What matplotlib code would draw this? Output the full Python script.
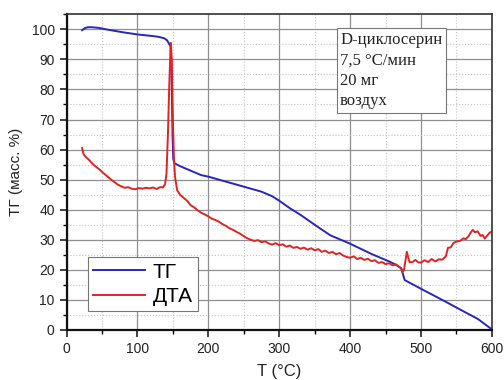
import numpy as np
import matplotlib
matplotlib.use('Agg')
import matplotlib.pyplot as plt
from matplotlib.ticker import MultipleLocator

# TG curve (mass %)
tg_t = [22, 26, 30, 35, 45, 60, 80, 100, 120, 130, 138, 142, 145, 147, 148.5, 149.5,
        150.5, 152, 160, 175, 190, 200, 215, 230, 245, 260, 275, 290, 300, 315, 330,
        350, 372, 400, 430, 456, 466, 472, 474, 477, 500, 530, 560, 580, 600]
tg_v = [99.7, 100.4, 100.7, 100.7, 100.5, 99.8, 99.0, 98.3, 97.8, 97.5, 97.0, 96.3,
        95.0, 94.3, 80, 65, 57, 55.5, 54.5, 53, 51.5, 51, 50, 49, 48, 47, 46, 44.5, 43,
        40.5, 38.3, 35, 31.5, 28.7, 25.3, 22.7, 21.5, 20.5, 19, 16.6, 13.7, 10, 6.2, 3.7, 0.2]

# DTA curve
dta_t = [22, 24, 27, 32, 37, 42, 47, 52, 57, 62, 67, 72, 77, 82, 87, 92, 97, 102, 107,
         112, 117, 122, 127, 132, 136, 139, 141, 143, 145, 147, 148.5, 150, 151.5, 153,
         156, 160, 165, 170, 175, 180, 185, 190, 195, 200, 205, 210, 215, 220, 225, 230,
         235, 240, 245, 250, 255, 260, 265, 270, 275, 280, 285, 290, 295, 300, 305, 310,
         315, 320, 325, 330, 335, 340, 345, 350, 355, 360, 365, 370, 375, 380, 385, 390,
         395, 400, 405, 410, 415, 420, 425, 430, 435, 440, 445, 450, 455, 460, 465, 469,
         472, 474, 476, 478, 480, 482, 484, 488, 492, 496, 500, 505, 510, 515, 520, 525,
         530, 535, 538, 542, 546, 550, 555, 560, 563, 567, 570, 573, 576, 580, 584, 587,
         590, 594, 597, 600]
dta_v = [60.5, 58.5, 57.6, 56.5, 55.2, 54.2, 53.3, 52.2, 51.2, 50.2, 49.3, 48.4, 47.8,
         47.3, 47.5, 47.0, 46.8, 47.2, 47.0, 47.3, 47.1, 47.4, 46.9, 47.5, 47.4, 48.5,
         52, 65, 82, 95.5, 90, 70, 57, 51, 46.5, 45, 44, 43, 41.5, 40.8, 39.8, 39, 38.4,
         37.8, 37, 36.6, 36, 35.2, 34.6, 33.8, 33.3, 32.6, 32, 31.2, 30.5, 30.0, 29.6,
         29.9, 29.2, 29.5, 28.8, 28.4, 28.9, 28.2, 28.5, 27.7, 28.1, 27.3, 27.6, 27.0,
         27.4, 26.7, 27.2, 26.5, 26.9, 26.0, 26.4, 25.6, 26.0, 25.2, 25.6, 24.8, 24.3,
         24.0, 24.5, 23.6, 24.0, 23.3, 23.7, 22.9, 23.2, 22.3, 22.6, 21.9, 22.2, 21.5,
         21.8, 21.0, 20.6, 19.3, 20.0, 23, 26.0, 24, 22.5, 22.6, 23.3, 22.5, 22.4, 23.2,
         22.6, 23.6, 22.8, 23.5, 23.4, 24.5, 27.3, 27.5, 29.0, 29.4, 29.6, 30.5, 30.2,
         31.2, 32.4, 33.3, 32.5, 32.8, 31.3, 31.6, 30.4, 31.6, 32.4, 32.7]

info_lines = ['D-циклосерин', '7,5 °C/мин', '20 мг', 'воздух']

plt.rcParams['font.family'] = ['Liberation Sans', 'DejaVu Sans']

fig = plt.figure(figsize=(5.04, 3.8), dpi=100)
ax = fig.add_axes([0.132, 0.1316, 0.844, 0.8308])

ax.plot(tg_t, tg_v, color='#2626c0', lw=1.4, label='ТГ')
ax.plot(dta_t, dta_v, color='#e02424', lw=1.4, label='ДТА')

ax.set_xlim(0, 600)
ax.set_ylim(0, 105)
ax.xaxis.set_major_locator(MultipleLocator(100))
ax.xaxis.set_minor_locator(MultipleLocator(50))
ax.yaxis.set_major_locator(MultipleLocator(10))
ax.yaxis.set_minor_locator(MultipleLocator(5))

ax.grid(which='major', color='#8f8f8f', lw=0.9)
ax.grid(which='minor', color='#c4c4c4', lw=0.8, ls=':')
ax.set_axisbelow(True)

ax.tick_params(which='major', direction='out', length=5, width=1.2, labelsize=10, colors='#222222')
ax.tick_params(which='minor', direction='out', length=3, width=1.0)
for s in ['left', 'bottom']:
    ax.spines[s].set_linewidth(1.6)
    ax.spines[s].set_color('#111111')
for s in ['top', 'right']:
    ax.spines[s].set_linewidth(1.2)
    ax.spines[s].set_color('#333333')

ax.set_xlabel('T (°C)', fontsize=12, color='#222222', labelpad=6)
ax.set_ylabel('ТГ (масс. %)', fontsize=11, color='#222222', labelpad=6)

leg = ax.legend(loc='lower left', bbox_to_anchor=(0.05, 0.06), fontsize=15,
                fancybox=False, framealpha=1, edgecolor='#777777', handlelength=2.5,
                borderaxespad=0, borderpad=0.25, labelspacing=0.25, handletextpad=0.35)
leg.get_frame().set_linewidth(0.8)

ax.text(0.643, 0.945, '\n'.join(info_lines), transform=ax.transAxes, va='top', ha='left',
        fontsize=12, family='Liberation Serif', color='#222222', linespacing=1.38,
        bbox=dict(boxstyle='square,pad=0.2', fc='white', ec='#777777', lw=0.8))

fig.savefig('out.png', dpi=100)
